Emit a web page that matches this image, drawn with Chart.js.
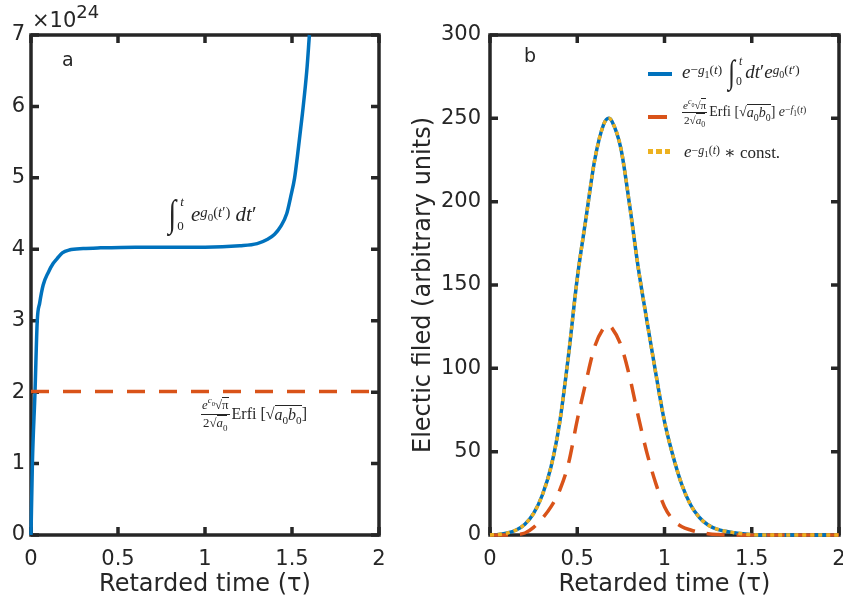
<!DOCTYPE html>
<html lang="en">
<head>
<meta charset="UTF-8">
<title>Retarded time plots</title>
<script src="https://cdn.jsdelivr.net/npm/chart.js"></script>
<style>
  body { margin: 0; background: #fff; }
  #wrap { position: relative; width: 843px; height: 604px; overflow: hidden; }
  canvas { position: absolute; top: 0; }
  .ov { position: absolute; color: #262626; white-space: nowrap; }
  .sans { font-family: "DejaVu Sans", sans-serif; }
  .m { font-family: "Liberation Serif", "DejaVu Serif", serif; display: flex; align-items: center; }
  .m sup, .m sub { font-size: 0.7em; line-height: 0; }
  .m sup sub { font-size: 0.75em; }
  .int { line-height: 1; font-style: italic; display: inline-block; transform: scaleX(0.75); }
  .lims { display: inline-flex; flex-direction: column; justify-content: space-between; font-size: 0.62em; margin: 0 3px 0 0; }
  .lims i { margin-left: 3px; }
  .frac { display: inline-flex; flex-direction: column; align-items: center; font-size: 0.8em; margin: 0 2px 0 0; }
  .frac .n { border-bottom: 1px solid #262626; padding: 0 1px 1px; }
  .frac .d { padding-top: 1px; }
  .ol { border-top: 1px solid #262626; }
  .sw { position: absolute; }
</style>
</head>
<body>
<div id="wrap">
  <canvas id="chartA" width="400" height="604" style="left:0"></canvas>
  <canvas id="chartB" width="443" height="604" style="left:400px"></canvas>

  <!-- exponent label of the left axis -->
  <div class="ov sans" style="left:32px;top:10px;font-size:21px;line-height:21px">×10<span style="position:relative;top:-9px;font-size:18px">24</span></div>

  <div class="ov sans" style="left:62px;top:48px;font-size:19px">a</div>
  <div class="ov sans" style="left:524px;top:44px;font-size:19px">b</div>

  <!-- annotations of panel a -->
  <div class="ov m" style="left:167px;top:192px;height:44px;font-size:21px">
    <span class="int" style="font-size:1.8em">∫</span><span class="lims" style="height:3em;margin-right:7px"><i>t</i><span>0</span></span><i>e</i><sup><i>g</i><sub>0</sub>(<i>t</i>′)</sup>&nbsp;<i>dt</i>′
  </div>
  <div class="ov m" style="left:201px;top:392px;height:44px;font-size:16px">
    <span class="frac"><span class="n"><i>e</i><sup><i>c</i><sub>0</sub></sup>√<span class="ol">π</span></span><span class="d">2√<span class="ol"><i>a</i><sub>0</sub></span></span></span>Erfi&nbsp;[√<span class="ol"><i>a</i><sub>0</sub><i>b</i><sub>0</sub></span>]
  </div>

  <!-- legend of panel b -->
  <div class="sw" style="left:648px;top:72px;width:24px;height:4px;background:#0072BD"></div>
  <div class="sw" style="left:648px;top:115px;width:19px;height:4px;background:#D95319"></div>
  <div class="sw" style="left:648px;top:149px;width:24px;height:5px;background:repeating-linear-gradient(90deg,#EDB120 0 5px,transparent 5px 8.5px)"></div>

  <div class="ov m" style="left:682px;top:52px;height:40px;font-size:19px">
    <i>e</i><sup>−<i>g</i><sub>1</sub>(<i>t</i>)</sup>&nbsp;<span class="int" style="font-size:1.75em">∫</span><span class="lims" style="height:2.9em"><i>t</i><span>0</span></span><i>dt</i>′<i>e</i><sup><i>g</i><sub>0</sub>(<i>t</i>′)</sup>
  </div>
  <div class="ov m" style="left:682px;top:92px;height:40px;font-size:14px">
    <span class="frac"><span class="n"><i>e</i><sup><i>c</i><sub>0</sub></sup>√<span class="ol">π</span></span><span class="d">2√<span class="ol"><i>a</i><sub>0</sub></span></span></span>Erfi&nbsp;[√<span class="ol"><i>a</i><sub>0</sub><i>b</i><sub>0</sub></span>]&nbsp;<i>e</i><sup>−<i>f</i><sub>1</sub>(<i>t</i>)</sup>
  </div>
  <div class="ov m" style="left:684px;top:139px;height:26px;font-size:17px">
    <i>e</i><sup>−<i>g</i><sub>1</sub>(<i>t</i>)</sup>&nbsp;∗&nbsp;const.
  </div>
</div>

<script>
// panel a: integral of exp(g0), in units of 1e24
const integralT   = [0, 0.008, 0.023, 0.036, 0.05, 0.07, 0.1, 0.127, 0.15, 0.18, 0.22, 0.3, 0.4, 0.6, 0.8, 1.0, 1.2, 1.3, 1.36, 1.4, 1.435, 1.47, 1.493, 1.515, 1.531, 1.56, 1.585, 1.6];
const integralVal = [0, 1, 2, 3, 3.25, 3.5, 3.68, 3.8, 3.87, 3.95, 3.99, 4.01, 4.02, 4.03, 4.03, 4.03, 4.05, 4.08, 4.14, 4.21, 4.32, 4.5, 4.74, 5.0, 5.3, 5.9, 6.5, 7.0];
// panel a: constant Erfi term
const erfiT   = [0, 2];
const erfiVal = [2.01, 2.01];

// panel b: electric field
const fieldT = [0, 0.05, 0.1, 0.15, 0.2, 0.25, 0.3, 0.35, 0.4, 0.45, 0.5, 0.55, 0.6, 0.65, 0.68, 0.7, 0.75, 0.8, 0.85, 0.9, 0.95, 1.0, 1.05, 1.1, 1.15, 1.2, 1.25, 1.3, 1.35, 1.4, 1.45, 1.5, 1.55, 1.6, 1.7, 1.8, 1.9, 2.0];
const fieldExact = [0, 0.3, 1.2, 3, 6.5, 13, 24, 41, 68, 108, 154, 190, 225, 246, 250, 248, 232, 198, 160, 128, 97, 68, 47, 30, 18, 10.5, 6, 3.5, 2.2, 1.4, 0.7, 0.2, 0, 0, 0, 0, 0, 0];
const fieldConst = [0, 0.3, 1.2, 3, 6.5, 13, 24, 41, 68, 108, 154, 190, 225, 246, 250, 248, 232, 198, 160, 128, 97, 68, 47, 30, 18, 10.5, 6, 3.5, 2.2, 1.4, 0.7, 0.2, 0, 0, 0, 0, 0, 0];
const approxT   = [0, 0.05, 0.1, 0.15, 0.2, 0.25, 0.3, 0.35, 0.4, 0.45, 0.5, 0.55, 0.6, 0.65, 0.675, 0.7, 0.75, 0.8, 0.85, 0.9, 0.95, 1.0, 1.05, 1.1, 1.15, 1.2, 1.25, 1.3, 1.35, 1.4, 1.5, 1.6, 1.7, 1.8, 1.9, 2.0];
const approxVal = [0, 0, 0, 0.3, 1.2, 4.6, 10, 17, 27, 43, 69, 92, 113, 124, 126, 124, 114, 95, 71, 49, 31, 17, 9, 5, 3, 1.6, 0.8, 0.3, 0, 0, 0, 0, 0, 0, 0, 0];

const xTicks  = [0, 0.5, 1, 1.5, 2];
const yTicksA = [0, 1, 2, 3, 4, 5, 6, 7];
const yTicksB = [0, 50, 100, 150, 200, 250, 300];

const BLUE = '#0072BD', RED = '#D95319', YELLOW = '#EDB120', INK = '#262626';
const tickFont  = { family: 'DejaVu Sans', size: 21 };
const titleFont = { family: 'DejaVu Sans', size: 24 };

function pts(xs, ys) {
  return xs.map((x, i) => ({ x: x, y: ys[i] }));
}

// matlab-like box with inward ticks on all four sides
const boxPlugin = {
  id: 'box',
  beforeDatasetsDraw(chart) {
    const { ctx, chartArea: a, scales } = chart;
    const len = 8;
    ctx.save();
    ctx.strokeStyle = INK;
    ctx.lineWidth = 3.5;
    ctx.beginPath();
    scales.x.ticks.forEach(t => {
      const px = scales.x.getPixelForValue(t.value);
      ctx.moveTo(px, a.bottom); ctx.lineTo(px, a.bottom - len);
      ctx.moveTo(px, a.top); ctx.lineTo(px, a.top + len);
    });
    scales.y.ticks.forEach(t => {
      const py = scales.y.getPixelForValue(t.value);
      ctx.moveTo(a.left, py); ctx.lineTo(a.left + len, py);
      ctx.moveTo(a.right, py); ctx.lineTo(a.right - len, py);
    });
    ctx.stroke();
    ctx.strokeRect(a.left, a.top, a.right - a.left, a.bottom - a.top);
    ctx.restore();
  }
};

function xScale() {
  return {
    type: 'linear', min: 0, max: 2,
    afterBuildTicks: s => { s.ticks = xTicks.map(v => ({ value: v })); },
    afterFit: s => { s.height = 69; s.paddingLeft = 0; s.paddingRight = 0; },
    grid: { display: false, drawTicks: false }, border: { display: false },
    ticks: { font: tickFont, color: INK, padding: 12, maxRotation: 0, autoSkip: false, callback: v => String(v) },
    title: { display: true, text: 'Retarded time (τ)', font: titleFont, color: INK, padding: { top: 0, bottom: 5 } }
  };
}

function yScale(max, ticks, width, pad, title) {
  return {
    min: 0, max: max,
    afterBuildTicks: s => { s.ticks = ticks.map(v => ({ value: v })); },
    afterFit: s => { s.width = width; s.paddingTop = 0; s.paddingBottom = 0; },
    grid: { display: false, drawTicks: false }, border: { display: false },
    ticks: { font: tickFont, color: INK, padding: pad, callback: v => String(v) },
    title: title
  };
}

const common = {
  responsive: false,
  animation: false,
  events: [],
  plugins: { legend: { display: false }, tooltip: { enabled: false } },
  elements: { point: { radius: 0 }, line: { cubicInterpolationMode: 'monotone' } }
};

new Chart(document.getElementById('chartA'), {
  type: 'line',
  data: {
    datasets: [
      { data: pts(integralT, integralVal), borderColor: BLUE, borderWidth: 3.5, order: 2, clip: 4 },
      { data: pts(erfiT, erfiVal), borderColor: RED, borderWidth: 3.5, borderDash: [18, 14], order: 1, clip: 4 }
    ]
  },
  options: Object.assign({}, common, {
    layout: { padding: { left: 0, right: 21, top: 35, bottom: 0 } },
    scales: {
      x: xScale(),
      y: yScale(7, yTicksA, 31, 6, { display: false })
    }
  }),
  plugins: [boxPlugin]
});

new Chart(document.getElementById('chartB'), {
  type: 'line',
  data: {
    datasets: [
      { data: pts(fieldT, fieldExact), borderColor: BLUE, borderWidth: 3.5, order: 3, clip: 4 },
      { data: pts(approxT, approxVal), borderColor: RED, borderWidth: 3.5, borderDash: [18, 12], order: 2, clip: 4 },
      { data: pts(fieldT, fieldConst), borderColor: YELLOW, borderWidth: 3.5, borderDash: [4, 4], order: 1, clip: 4 }
    ]
  },
  options: Object.assign({}, common, {
    layout: { padding: { left: 0, right: 4, top: 35, bottom: 0 } },
    scales: {
      x: xScale(),
      y: yScale(300, yTicksB, 90, 9, {
        display: true, text: 'Electic filed (arbitrary units)', font: titleFont, color: INK,
        padding: { top: 9, bottom: 0 }
      })
    }
  }),
  plugins: [boxPlugin]
});
</script>
</body>
</html>
